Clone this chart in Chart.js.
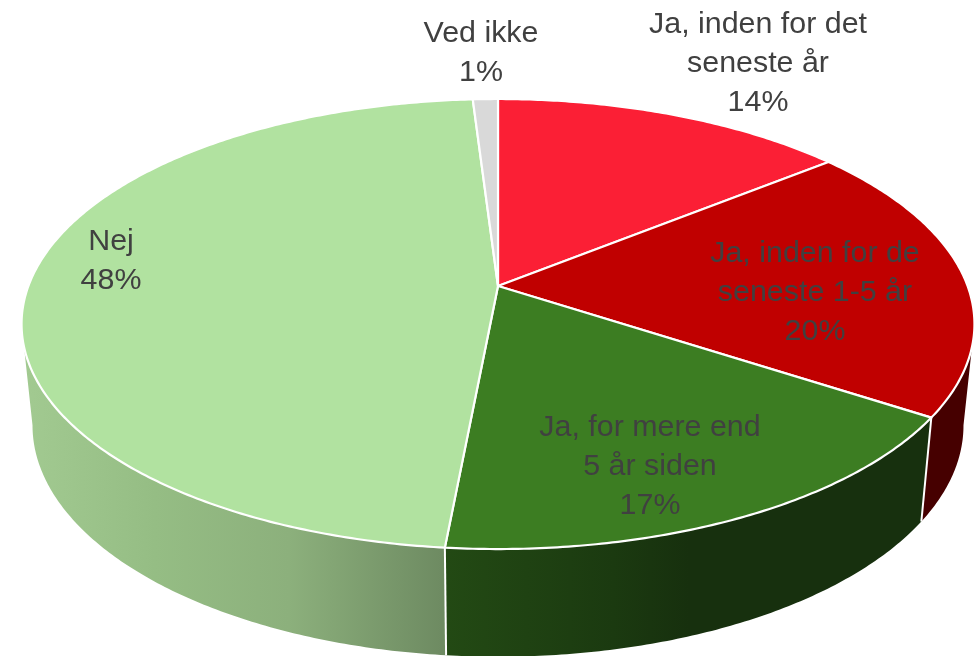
<!DOCTYPE html>
<html lang="da">
<head>
<meta charset="utf-8">
<title>Pie</title>
<script src="https://cdn.jsdelivr.net/npm/chart.js@4"></script>
<style>html,body{margin:0;padding:0;background:#fff}canvas{display:block}</style>
</head>
<body>
<canvas id="c" width="976" height="656"></canvas>
<script>
const categories = ["Ja, inden for det seneste år","Ja, inden for de seneste 1-5 år","Ja, for mere end 5 år siden","Nej","Ved ikke"];
const values = [14.2, 20.0, 17.3, 47.5, 1.0];
const categoryLines = [["Ja, inden for det","seneste år"],["Ja, inden for de","seneste 1-5 år"],["Ja, for mere end","5 år siden"],["Nej"],["Ved ikke"]];
const topColors = ["#fb1f35","#c00000","#3c7d22","#b1e2a0","#d9d9d9"];
const wallColors = ["#7e1019","#460000","#17300e","#8cb07c","#a0a0a0"];

// Layout (separate from the data)
const labelCenters = [[758,25],[815,254],[650,428],[111,242],[481,34]];
const LINE = 38.6, FONT = '30.4px "Liberation Sans"', INK = '#404040';
const P = {cx:498, cy:286, ax:469.6, b:218.6, k:-0.169, s:0.977, bb:224.8, dy:100.2};
const EXT = Math.asin(-P.k);

function project(a, bottom){
  const u=Math.cos(a), v=Math.sin(a), w=1+P.k*v, s=bottom?P.s:1;
  return [P.cx+s*P.ax*u/w, P.cy+(bottom?P.dy:0)+(bottom?P.bb:P.b)*v/w];
}
function arcPts(a0,a1,bottom){
  const n=Math.max(2,Math.ceil(Math.abs(a1-a0)/0.01)), pts=[];
  for(let i=0;i<=n;i++) pts.push(project(a0+(a1-a0)*i/n,bottom));
  return pts;
}
function wallFill(ctx,i){
  if(i===1||i===4||i===0) return wallColors[i];
  const g=ctx.createLinearGradient(22,0,975,0);
  if(i===3){
    g.addColorStop(0,'#a2ca91'); g.addColorStop(0.14,'#95bd84');
    g.addColorStop(0.28,'#8cb07c'); g.addColorStop(0.44,'#6e8b62');
    return g;
  }
  g.addColorStop(0.44,'#234a14'); g.addColorStop(0.62,'#1b3a10'); g.addColorStop(0.7,'#17300e');
  return g;
}
const pie3d = {
  id:'pie3d',
  beforeDatasetDraw(chart,args){
    const ctx=chart.ctx, arcs=chart.getDatasetMeta(args.index).data;
    ctx.save();
    ctx.lineJoin='round';
    // side walls
    arcs.forEach((arc,i)=>{
      const lo=Math.max(arc.startAngle,EXT), hi=Math.min(arc.endAngle,Math.PI-EXT);
      if(hi<=lo) return;
      const pts=arcPts(lo,hi,false).concat(arcPts(hi,lo,true));
      ctx.beginPath();
      pts.forEach((p,j)=>j?ctx.lineTo(p[0],p[1]):ctx.moveTo(p[0],p[1]));
      ctx.closePath();
      ctx.fillStyle=wallFill(ctx,i);
      ctx.fill();
    });
    // wall separators
    arcs.forEach(arc=>{
      const a=arc.startAngle;
      if(a<=EXT||a>=Math.PI-EXT) return;
      const t=project(a,false), b=project(a,true);
      ctx.beginPath(); ctx.moveTo(t[0],t[1]); ctx.lineTo(b[0],b[1]);
      ctx.strokeStyle='#fff'; ctx.lineWidth=2; ctx.stroke();
    });
    // top faces
    arcs.forEach((arc,i)=>{
      const pts=arcPts(arc.startAngle,arc.endAngle,false);
      ctx.beginPath(); ctx.moveTo(P.cx,P.cy);
      pts.forEach(p=>ctx.lineTo(p[0],p[1]));
      ctx.closePath();
      ctx.fillStyle=topColors[i]; ctx.fill();
      ctx.strokeStyle='#fff'; ctx.lineWidth=2.2; ctx.stroke();
    });
    ctx.restore();
    return false;
  },
  afterDatasetsDraw(chart){
    const ctx=chart.ctx;
    ctx.save();
    ctx.font=FONT; ctx.fillStyle=INK; ctx.textAlign='center'; ctx.textBaseline='middle';
    values.forEach((v,i)=>{
      const lines=categoryLines[i].concat([Math.round(v)+'%']);
      lines.forEach((t,j)=>ctx.fillText(t,labelCenters[i][0],labelCenters[i][1]+j*LINE));
    });
    ctx.restore();
  }
};
new Chart(document.getElementById('c'),{
  type:'pie',
  data:{labels:categories,datasets:[{data:values,backgroundColor:topColors,borderColor:'#fff',borderWidth:2}]},
  options:{responsive:false,animation:false,events:[],rotation:0,
    plugins:{legend:{display:false},title:{display:false},tooltip:{enabled:false}}},
  plugins:[pie3d]
});
</script>
</body>
</html>
